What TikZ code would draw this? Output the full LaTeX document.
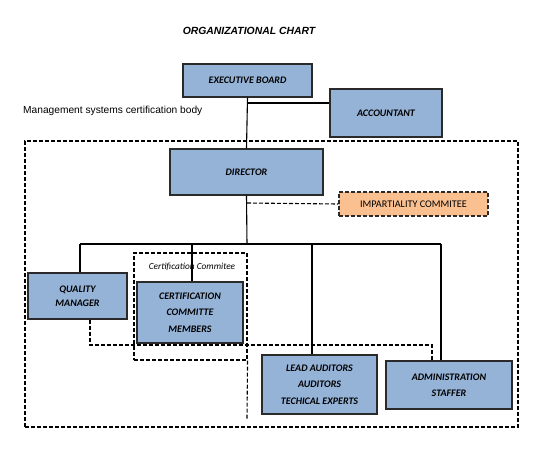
\documentclass[tikz,border=0pt]{standalone}
\usepackage{fontspec}
\setmainfont{Liberation Sans}
\newfontfamily\carl{Carlito}
\definecolor{boxblue}{HTML}{95B3D7}
\definecolor{boxline}{HTML}{2A2A2A}
\definecolor{imporange}{HTML}{FAC090}
\begin{document}
\begin{tikzpicture}[x=1pt,y=-1pt,
  box/.style={draw=boxline, fill=boxblue, line width=1.3pt, inner sep=0pt, align=center,
    font=\carl\bfseries\itshape\fontsize{10}{16.5}\selectfont},
  conn/.style={draw=black, line width=1.1pt},
  dsh/.style={draw=black, line width=1.1pt, dash pattern=on 4pt off 2pt},
]
\useasboundingbox (0,0) rectangle (555,464);
\node[font=\bfseries\itshape\fontsize{10.4}{12}\selectfont] (title) at (249,31) {ORGANIZATIONAL CHART};
\node[anchor=west, inner sep=0pt, font=\fontsize{10.2}{12}\selectfont] (mgmt) at (23,111) {Management systems certification body};

% big dashed region
\node[dsh, inner sep=0pt, minimum width=493, minimum height=286] (body) at (271.5,284) {};

\node[box, minimum width=129, minimum height=33] (eb) at (247.5,80.5) {EXECUTIVE BOARD};
\node[box, minimum width=112, minimum height=48] (acc) at (386,113) {ACCOUNTANT};
\node[box, minimum width=153, minimum height=46] (dir) at (246.5,172) {DIRECTOR};
\node[draw=boxline, fill=imporange, line width=1.1pt, dash pattern=on 4pt off 2pt, inner sep=0pt,
  minimum width=149, minimum height=24, font=\carl\fontsize{10.2}{12}\selectfont] (imp) at (413.5,204) {IMPARTIALITY COMMITEE};

% certification committee dashed group
\node[dsh, inner sep=0pt, minimum width=113, minimum height=107] (cc) at (190.5,306.5) {};
\node[font=\carl\itshape\fontsize{9.3}{11}\selectfont, inner sep=0pt] (cclabel) at (192,267) {Certification Commitee};

\node[box, minimum width=99, minimum height=46, font=\carl\bfseries\itshape\fontsize{10}{14.5}\selectfont] (qm) at (77.5,296) {QUALITY\\MANAGER};
\node[box, minimum width=106, minimum height=61] (ccm) at (190,312.5) {CERTIFICATION\\COMMITTE\\MEMBERS};
\node[box, minimum width=115, minimum height=59] (la) at (319.5,384.5) {LEAD AUDITORS\\AUDITORS\\TECHICAL EXPERTS};
\node[box, minimum width=126, minimum height=48] (adm) at (449,385) {ADMINISTRATION\\STAFFER};

% coordinates
\coordinate (accj) at (247,103);
\coordinate (impj) at (247,203);
\coordinate (busm) at (247,244);
\coordinate (busqm) at (80,244);
\coordinate (buscc) at (192,244);
\coordinate (busla) at (312,244);
\coordinate (busadm) at (441,244);
\coordinate (qmdown) at (90,345);
\coordinate (ccext) at (247,419);

% connectors
\draw[conn] (eb.south) -- (dir.north);
\draw[conn] (accj) -- (accj -| acc.west);
\draw[conn] (dir.south) -- (busm);
\draw[conn] (busqm) -- (busadm);
\draw[conn] (busqm) -- (busqm |- qm.north);
\draw[conn] (buscc) -- (buscc |- ccm.north);
\draw[conn] (busla) -- (busla |- la.north);
\draw[conn] (busadm) -- (busadm |- adm.north);
\draw[dsh] (impj) -- (imp.west);
\draw[dsh] (qmdown |- qm.south) -- (qmdown) -| ([xshift=-17pt]adm.north);
\draw[dsh] (cc.south east) -- (ccext);
\end{tikzpicture}
\end{document}
